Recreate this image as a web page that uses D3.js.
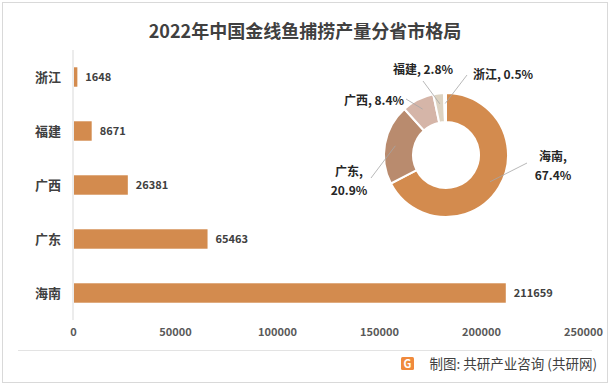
<!DOCTYPE html>
<html>
<head>
<meta charset="utf-8">
<script src="https://cdn.jsdelivr.net/npm/d3@7"></script>
<style>
  body { margin: 0; background: #fff; }
  text { font-family: "Noto Sans CJK SC", "Noto Sans", sans-serif; }
</style>
</head>
<body>
<svg id="chart" width="611" height="387"></svg>
<script>
// data
var provinces = ["浙江", "福建", "广西", "广东", "海南"];
var output = [1648, 8671, 26381, 65463, 211659];
var xTicks = [0, 50000, 100000, 150000, 200000, 250000];
// donut order (clockwise from top) and shares
var pieNames = ["海南", "广东", "广西", "福建", "浙江"];
var pieShares = [67.4, 20.9, 8.4, 2.8, 0.5];
var pieColors = ["#d38b4e", "#b98b6e", "#d5b5a8", "#ddd3c2", "#ece7dd"];

var svg = d3.select("#chart");

// outer frame
svg.append("rect")
    .attr("x", 2.5).attr("y", 2.5)
    .attr("width", 605).attr("height", 380)
    .attr("fill", "#fff")
    .attr("stroke", "#d9d9d9");

svg.append("text")
    .attr("x", 305).attr("y", 38)
    .attr("text-anchor", "middle")
    .attr("font-size", 18).attr("font-weight", "bold")
    .attr("fill", "#404040")
    .text("2022年中国金线鱼捕捞产量分省市格局");

/******** bar chart ********/
var margin = {top: 50, left: 73};
var w = 510, h = 270;
var g = svg.append("g").attr("transform", "translate(" + margin.left + "," + margin.top + ")");

var x = d3.scaleLinear().domain([0, 250000]).range([0, w]);
var y = d3.scaleBand().domain(provinces).range([0, h]).paddingInner(0.64).paddingOuter(0.32);

g.append("g")
    .attr("transform", "translate(0," + h + ")")
    .call(d3.axisBottom(x).tickValues(xTicks).tickSize(0).tickPadding(8).tickFormat(d3.format("d")))
    .call(function(a) {
        a.select(".domain").remove();
        a.selectAll("text").attr("font-size", 11).attr("font-weight", "bold").attr("fill", "#595959");
    });

g.append("line")
    .attr("x1", 0).attr("x2", 0).attr("y1", 0).attr("y2", h)
    .attr("stroke", "#d9d9d9");

var rows = provinces.map(function(p, i) { return {name: p, value: output[i]}; });

g.selectAll(".bar").data(rows).enter().append("rect")
    .attr("x", 1)
    .attr("y", function(d) { return y(d.name); })
    .attr("width", function(d) { return x(d.value); })
    .attr("height", y.bandwidth())
    .attr("fill", "#d38b4e");

g.selectAll(".val").data(rows).enter().append("text")
    .attr("x", function(d) { return x(d.value) + 9; })
    .attr("y", function(d) { return y(d.name) + y.bandwidth() / 2; })
    .attr("dy", "0.35em")
    .attr("font-size", 11).attr("font-weight", "bold")
    .attr("fill", "#404040")
    .text(function(d) { return d.value; });

g.selectAll(".cat").data(rows).enter().append("text")
    .attr("x", -12)
    .attr("y", function(d) { return y(d.name) + y.bandwidth() / 2; })
    .attr("dy", "0.35em")
    .attr("text-anchor", "end")
    .attr("font-size", 13).attr("font-weight", "bold")
    .attr("fill", "#404040")
    .text(function(d) { return d.name; });

/******** donut ********/
var cx = 446, cy = 155, rOut = 62, rIn = 33;
var pg = svg.append("g").attr("transform", "translate(" + cx + "," + cy + ")");

var slices = pieNames.map(function(n, i) { return {name: n, value: pieShares[i], color: pieColors[i]}; });
var pie = d3.pie().sort(null).value(function(d) { return d.value; });
var arc = d3.arc().innerRadius(rIn).outerRadius(rOut);
var arcs = pie(slices);

pg.selectAll("path").data(arcs).enter().append("path")
    .attr("d", arc)
    .attr("fill", function(d) { return d.data.color; })
    .attr("stroke", "#fff").attr("stroke-width", 2);

// label placement: text centre and leader-line end
var labelPos = {
    "海南": {tx: 553, ty: 157, lx: 527, ly: 163, split: true},
    "广东": {tx: 349, ty: 172, lx: 371, ly: 178, split: true},
    "广西": {tx: 374, ty: 101, lx: 406, ly: 99, split: false},
    "福建": {tx: 423, ty: 70, lx: 423, ly: 81, split: false},
    "浙江": {tx: 503, ty: 75, lx: 467, ly: 75, split: false}
};
var midR = (rIn + rOut) / 2;

arcs.forEach(function(d) {
    var p = labelPos[d.data.name];
    var a = (d.startAngle + d.endAngle) / 2;
    var sx = cx + Math.sin(a) * (midR + 4), sy = cy - Math.cos(a) * (midR + 4);
    svg.append("line")
        .attr("x1", sx).attr("y1", sy).attr("x2", p.lx).attr("y2", p.ly)
        .attr("stroke", "#a6a6a6").attr("stroke-width", 0.8);
    var t = svg.append("text")
        .attr("x", p.tx).attr("y", p.ty)
        .attr("text-anchor", "middle")
        .attr("font-size", 12).attr("font-weight", "bold")
        .attr("fill", "#262626");
    var pct = d.data.value.toFixed(1) + "%";
    if (p.split) {
        t.append("tspan").attr("x", p.tx).attr("dy", "0.35em").text(d.data.name + ",");
        t.append("tspan").attr("x", p.tx).attr("dy", "1.55em").text(pct);
    } else {
        t.attr("dy", "0.35em").text(d.data.name + ", " + pct);
    }
});

/******** footer ********/
svg.append("line")
    .attr("x1", 18).attr("x2", 592).attr("y1", 350.5).attr("y2", 350.5)
    .attr("stroke", "#e3e3e3");

var icon = svg.append("g").attr("transform", "translate(401,357)");
icon.append("rect").attr("width", 13).attr("height", 13).attr("rx", 1.5).attr("fill", "#f08a3c");
icon.append("text").attr("x", 6.5).attr("y", 11).attr("text-anchor", "middle")
    .attr("font-size", 11).attr("font-weight", "bold").attr("fill", "#fff").text("G");

svg.append("text")
    .attr("x", 597).attr("y", 364)
    .attr("dy", "0.35em")
    .attr("text-anchor", "end")
    .attr("font-size", 13.5)
    .attr("fill", "#404040")
    .text("制图: 共研产业咨询 (共研网)");
</script>
</body>
</html>
